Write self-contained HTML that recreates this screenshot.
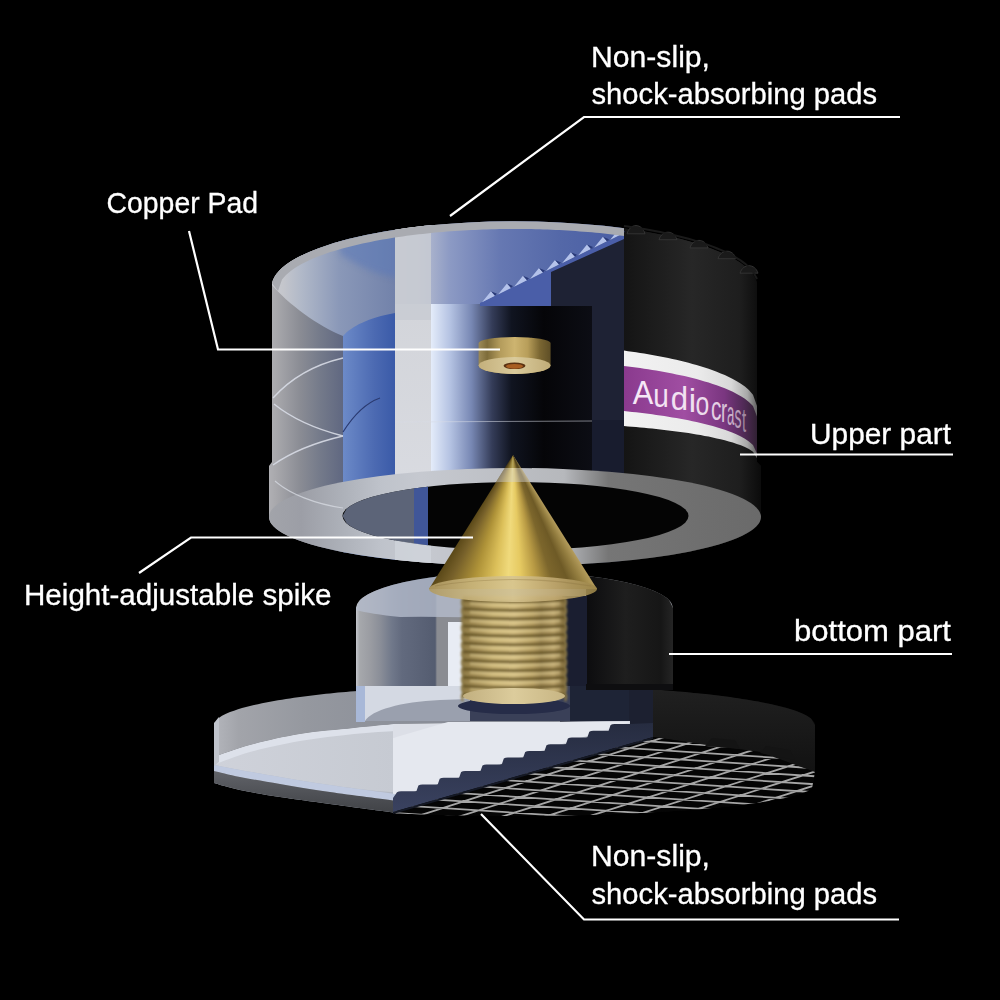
<!DOCTYPE html>
<html><head><meta charset="utf-8"><style>
html,body{margin:0;padding:0;background:#000;}
svg{display:block}
</style></head><body>
<svg width="1000" height="1000" viewBox="0 0 1000 1000">
<rect width="1000" height="1000" fill="#000"/>

<defs>
 <linearGradient id="gL" x1="265" x2="345" gradientUnits="userSpaceOnUse"><stop offset="0" stop-color="#b4b4b8"/><stop offset="0.14" stop-color="#a8a8ac"/><stop offset="0.44" stop-color="#8a8c94"/><stop offset="0.69" stop-color="#747a8a"/><stop offset="1" stop-color="#5e6680"/></linearGradient>
 <linearGradient id="gBlue" x1="0" x2="1"><stop offset="0" stop-color="#6c8ac8"/><stop offset="0.6" stop-color="#4c6ab2"/><stop offset="1" stop-color="#3a5aa8"/></linearGradient>
 <linearGradient id="gStrip" x1="0" x2="0" y1="0" y2="1"><stop offset="0" stop-color="#cfd1d6"/><stop offset="1" stop-color="#dcdee4"/></linearGradient>
 <linearGradient id="gInner" x1="431" x2="592" gradientUnits="userSpaceOnUse"><stop offset="0" stop-color="#e4ecfa"/><stop offset="0.12" stop-color="#b4c2e2"/><stop offset="0.25" stop-color="#7888b4"/><stop offset="0.38" stop-color="#343c58"/><stop offset="0.5" stop-color="#101420"/><stop offset="0.7" stop-color="#050508"/><stop offset="1" stop-color="#0c0d14"/></linearGradient>
 <linearGradient id="gTopCut" x1="395" x2="624" gradientUnits="userSpaceOnUse"><stop offset="0" stop-color="#c4c6cc"/><stop offset="0.11" stop-color="#b8bed0"/><stop offset="0.24" stop-color="#8c9ac4"/><stop offset="0.46" stop-color="#6678b2"/><stop offset="0.72" stop-color="#5468a8"/><stop offset="1" stop-color="#4a5ea4"/></linearGradient>
 <linearGradient id="gTopL" x1="271" x2="395" gradientUnits="userSpaceOnUse"><stop offset="0" stop-color="#cacbd0"/><stop offset="0.1" stop-color="#c4c6cc"/><stop offset="0.25" stop-color="#b0b8c8"/><stop offset="0.55" stop-color="#8a98b8"/><stop offset="1" stop-color="#7282aa"/></linearGradient>
 <linearGradient id="gBody" x1="624" x2="760" gradientUnits="userSpaceOnUse"><stop offset="0" stop-color="#141414"/><stop offset="0.5" stop-color="#272727"/><stop offset="0.85" stop-color="#1e1e1e"/><stop offset="1" stop-color="#0c0c0c"/></linearGradient>
 <linearGradient id="gBand" x1="624" x2="758" gradientUnits="userSpaceOnUse"><stop offset="0" stop-color="#f2f2f2"/><stop offset="0.55" stop-color="#ebebeb"/><stop offset="0.8" stop-color="#d8d8d8"/><stop offset="0.92" stop-color="#a8a8a8"/><stop offset="1" stop-color="#5a5a5a"/></linearGradient>
 <linearGradient id="gPurp" x1="624" x2="758" gradientUnits="userSpaceOnUse"><stop offset="0" stop-color="#8a3a8e"/><stop offset="0.45" stop-color="#a04ea2"/><stop offset="0.75" stop-color="#7a3680"/><stop offset="0.9" stop-color="#4e2a54"/><stop offset="1" stop-color="#2e2030"/></linearGradient>
 <linearGradient id="gCone" x1="429" x2="597" gradientUnits="userSpaceOnUse"><stop offset="0" stop-color="#7a6428"/><stop offset="0.2" stop-color="#a08838"/><stop offset="0.38" stop-color="#e0c870"/><stop offset="0.5" stop-color="#f0dc8c"/><stop offset="0.62" stop-color="#c8ae5c"/><stop offset="0.78" stop-color="#8a7434"/><stop offset="1" stop-color="#b49c58"/></linearGradient>
 <linearGradient id="gThread" x1="462" x2="566" gradientUnits="userSpaceOnUse"><stop offset="0" stop-color="#8a7846"/><stop offset="0.25" stop-color="#c8b47e"/><stop offset="0.5" stop-color="#dcc890"/><stop offset="0.75" stop-color="#a8925a"/><stop offset="1" stop-color="#7a6838"/></linearGradient>
 <linearGradient id="gBP" x1="356" x2="446" gradientUnits="userSpaceOnUse"><stop offset="0" stop-color="#c4c6cc"/><stop offset="0.04" stop-color="#a6a8ac"/><stop offset="0.16" stop-color="#9a9ca2"/><stop offset="0.27" stop-color="#8a8e98"/><stop offset="0.4" stop-color="#70788a"/><stop offset="0.51" stop-color="#626a7e"/><stop offset="0.88" stop-color="#545c70"/><stop offset="0.9" stop-color="#8a8c92"/><stop offset="1" stop-color="#8a8c92"/></linearGradient>
 <linearGradient id="gBPR" x1="586" x2="674" gradientUnits="userSpaceOnUse"><stop offset="0" stop-color="#0c0c0e"/><stop offset="0.45" stop-color="#1e1e1e"/><stop offset="0.85" stop-color="#161616"/><stop offset="1" stop-color="#262626"/></linearGradient>
 <linearGradient id="gDiskWall" x1="214" x2="420" gradientUnits="userSpaceOnUse"><stop offset="0" stop-color="#b4b6bc"/><stop offset="0.12" stop-color="#a2a4aa"/><stop offset="0.45" stop-color="#95989f"/><stop offset="1" stop-color="#8a8e98"/></linearGradient><linearGradient id="gFront" x1="0" x2="0" y1="772" y2="813" gradientUnits="userSpaceOnUse"><stop offset="0" stop-color="#606268"/><stop offset="1" stop-color="#404246"/></linearGradient>
 <linearGradient id="gFloor" x1="214" x2="395" gradientUnits="userSpaceOnUse"><stop offset="0" stop-color="#cfd2da"/><stop offset="1" stop-color="#c6cad2"/></linearGradient>
 <linearGradient id="gRing" x1="269" x2="761" gradientUnits="userSpaceOnUse"><stop offset="0" stop-color="#a2a4aa"/><stop offset="0.065" stop-color="#9c9ea6"/><stop offset="0.15" stop-color="#adb1b9"/><stop offset="0.23" stop-color="#bfc3cb"/><stop offset="0.31" stop-color="#c6c9d0"/><stop offset="0.6" stop-color="#b6b8bc"/><stop offset="0.69" stop-color="#767676"/><stop offset="1" stop-color="#6a6a6a"/></linearGradient>
 <linearGradient id="gDiskR" x1="0" x2="0" y1="690" y2="770" gradientUnits="userSpaceOnUse"><stop offset="0" stop-color="#202020"/><stop offset="1" stop-color="#121212"/></linearGradient>
</defs>
<clipPath id="cRight"><rect x="394" y="600" width="500" height="300"/></clipPath>
<path d="M214.0,725 A300.5,40 0 0 1 815.0,725 L815.0,774 L812.0,788.5 L808.0,790.9 L804.0,792.6 L800.0,794.0 L795.9,795.2 L791.9,796.3 L787.9,797.3 L783.9,798.2 L779.9,799.0 L775.9,799.8 L771.9,800.5 L767.9,801.2 L763.8,801.9 L759.8,802.5 L755.8,803.1 L751.8,803.6 L747.8,804.2 L743.8,804.7 L739.8,805.2 L735.7,805.7 L731.7,806.1 L727.7,806.5 L723.7,807.0 L719.7,807.4 L715.7,807.8 L711.7,808.1 L707.7,808.5 L703.6,808.9 L699.6,809.2 L695.6,809.5 L691.6,809.9 L687.6,810.2 L683.6,810.5 L679.6,810.7 L675.5,811.0 L671.5,811.3 L667.5,811.5 L663.5,811.8 L659.5,812.0 L655.5,812.3 L651.5,812.5 L647.4,812.7 L643.4,812.9 L639.4,813.1 L635.4,813.3 L631.4,813.5 L627.4,813.7 L623.4,813.8 L619.4,814.0 L615.3,814.1 L611.3,814.3 L607.3,814.4 L603.3,814.6 L599.3,814.7 L595.3,814.8 L591.3,814.9 L587.2,815.0 L583.2,815.2 L579.2,815.2 L575.2,815.3 L571.2,815.4 L567.2,815.5 L563.2,815.6 L559.2,815.6 L555.1,815.7 L551.1,815.8 L547.1,815.8 L543.1,815.9 L539.1,815.9 L535.1,815.9 L531.1,816.0 L527.0,816.0 L523.0,816.0 L519.0,816.0 L515.0,816.0 L511.0,816.0 L507.0,816.0 L503.0,816.0 L499.0,816.0 L494.9,815.9 L490.9,815.9 L486.9,815.9 L482.9,815.8 L478.9,815.8 L474.9,815.7 L470.9,815.7 L466.8,815.6 L462.8,815.5 L458.8,815.4 L454.8,815.4 L450.8,815.3 L446.8,815.2 L442.8,815.1 L438.8,815.0 L434.7,814.9 L430.7,814.7 L426.7,814.6 L422.7,814.5 L418.7,814.3 L414.7,814.2 L410.7,814.0 L406.6,813.9 L402.6,813.7 L398.6,813.5 L394.6,813.3 L390.6,813.2 L386.6,813.0 L382.6,812.8 L378.6,812.5 L374.5,812.3 L370.5,812.1 L366.5,811.9 L362.5,811.6 L358.5,811.3 L354.5,811.1 L350.5,810.8 L346.4,810.5 L342.4,810.2 L338.4,809.9 L334.4,809.6 L330.4,809.3 L326.4,809.0 L322.4,808.6 L318.3,808.2 L314.3,807.9 L310.3,807.5 L306.3,807.1 L302.3,806.7 L298.3,806.2 L294.3,805.8 L290.3,805.3 L286.2,804.8 L282.2,804.3 L278.2,803.8 L274.2,803.2 L270.2,802.6 L266.2,802.0 L262.2,801.4 L258.1,800.7 L254.1,800.0 L250.1,799.2 L246.1,798.4 L242.1,797.5 L238.1,796.6 L234.1,795.5 L230.1,794.3 L226.0,793.0 L222.0,791.3 L218.0,789.2 L214.0,784.0 Z" fill="#0a0a0a" clip-path="url(#cRight)"/>
<path d="M560,685.5 L560.0,685.5 L564.0,685.5 L568.1,685.6 L572.1,685.7 L576.2,685.9 L580.2,686.0 L584.3,686.1 L588.3,686.2 L592.4,686.4 L596.4,686.5 L600.5,686.7 L604.5,686.8 L608.6,687.0 L612.6,687.2 L616.7,687.4 L620.7,687.6 L624.8,687.8 L628.8,688.0 L632.9,688.2 L636.9,688.5 L641.0,688.7 L645.0,689.0 L649.0,689.2 L653.1,689.5 L657.1,689.8 L661.2,690.1 L665.2,690.4 L669.3,690.7 L673.3,691.0 L677.4,691.4 L681.4,691.7 L685.5,692.1 L689.5,692.5 L693.6,692.9 L697.6,693.3 L701.7,693.7 L705.7,694.1 L709.8,694.6 L713.8,695.1 L717.9,695.6 L721.9,696.1 L726.0,696.6 L730.0,697.1 L734.0,697.7 L738.1,698.3 L742.1,698.9 L746.2,699.5 L750.2,700.2 L754.3,700.9 L758.3,701.6 L762.4,702.4 L766.4,703.2 L770.5,704.0 L774.5,705.0 L778.6,705.9 L782.6,706.9 L786.7,708.0 L790.7,709.2 L794.8,710.6 L798.8,712.0 L802.9,713.7 L806.9,715.8 L811.0,718.5 L815.0,725.0 L815.0,772 L760,752 L700,744 L655,737 L600,740 L560,740 Z" fill="url(#gDiskR)"/>
<path d="M214.0,725 L214.0,725.0 L218.0,718.5 L222.0,715.8 L226.0,713.8 L230.0,712.1 L234.0,710.7 L238.0,709.3 L242.0,708.1 L246.0,707.0 L250.0,706.0 L254.0,705.1 L258.0,704.2 L262.0,703.3 L266.0,702.5 L270.0,701.7 L274.0,701.0 L278.0,700.3 L282.0,699.7 L286.0,699.0 L290.0,698.4 L294.0,697.8 L298.0,697.3 L302.0,696.7 L306.0,696.2 L310.0,695.7 L314.0,695.2 L318.0,694.7 L322.0,694.3 L326.0,693.8 L330.0,693.4 L334.0,693.0 L338.0,692.6 L342.0,692.2 L346.0,691.9 L350.0,691.5 L354.0,691.2 L358.0,690.9 L362.0,690.5 L366.0,690.2 L370.0,689.9 L374.0,689.6 L378.0,689.4 L382.0,689.1 L386.0,688.8 L390.0,688.6 L394.0,688.4 L398.0,688.1 L402.0,687.9 L406.0,687.7 L410.0,687.5 L414.0,687.3 L418.0,687.1 L422.0,686.9 L426.0,686.8 L430.0,686.6 L434.0,686.5 L438.0,686.3 L442.0,686.2 L446.0,686.1 L450.0,685.9 L454.0,685.8 L458.0,685.7 L462.0,685.6 L466.0,685.5 L470.0,685.4 L474.0,685.4 L478.0,685.3 L482.0,685.2 L486.0,685.2 L490.0,685.1 L494.0,685.1 L498.0,685.1 L502.0,685.0 L506.0,685.0 L510.0,685.0 L514.0,685.0 L518.0,685.0 L522.0,685.0 L526.0,685.0 L530.0,685.1 L534.0,685.1 L538.0,685.1 L542.0,685.2 L546.0,685.2 L550.0,685.3 L554.0,685.3 L558.0,685.4 L562.0,685.5 L566.0,685.6 L570.0,685.7 L574.0,685.8 L578.0,685.9 L582.0,686.0 L586.0,686.1 L590.0,686.3 L594.0,686.4 L598.0,686.6 L602.0,686.7 L606.0,686.9 L610.0,687.1 L614.0,687.3 L618.0,687.4 L622.0,687.6 L626.0,687.9 L630.0,688.1 L630,721 L395,724 C388.2,724.7 369.8,726.3 354.0,728.0 C338.2,729.7 317.3,731.2 300.0,734.0 C282.7,736.8 264.3,741.2 250.0,745.0 C235.7,748.8 220.0,755.0 214.0,757.0 Z" fill="url(#gDiskWall)"/>
<path d="M560,686 L653,686 L653,737 L560,760 Z" fill="#1c2030"/>
<clipPath id="cMesh"><path d="M393,812 L653,737 L700,744 L760,752 L815,772 L812.0,788.5 L808.0,790.9 L804.0,792.6 L800.0,794.0 L796.0,795.2 L792.0,796.3 L788.0,797.3 L784.0,798.2 L780.0,799.0 L776.0,799.8 L772.0,800.5 L768.0,801.2 L764.0,801.8 L760.0,802.5 L756.0,803.0 L752.0,803.6 L748.0,804.1 L744.0,804.7 L740.0,805.2 L736.0,805.6 L732.0,806.1 L728.0,806.5 L724.0,806.9 L720.0,807.3 L716.0,807.7 L712.0,808.1 L708.0,808.5 L704.0,808.8 L700.0,809.2 L696.0,809.5 L692.0,809.8 L688.0,810.1 L684.0,810.4 L680.0,810.7 L676.0,811.0 L672.0,811.3 L668.0,811.5 L664.0,811.8 L660.0,812.0 L656.0,812.2 L652.0,812.5 L648.0,812.7 L644.0,812.9 L640.0,813.1 L636.0,813.3 L632.0,813.5 L628.0,813.6 L624.0,813.8 L620.0,814.0 L616.0,814.1 L612.0,814.3 L608.0,814.4 L604.0,814.5 L600.0,814.7 L596.0,814.8 L592.0,814.9 L588.0,815.0 L584.0,815.1 L580.0,815.2 L576.0,815.3 L572.0,815.4 L568.0,815.5 L564.0,815.6 L560.0,815.6 L556.0,815.7 L552.0,815.7 L548.0,815.8 L544.0,815.8 L540.0,815.9 L536.0,815.9 L532.0,815.9 L528.0,816.0 L524.0,816.0 L520.0,816.0 L516.0,816.0 L512.0,816.0 L508.0,816.0 L504.0,816.0 L500.0,816.0 L496.0,815.9 L492.0,815.9 L488.0,815.9 L484.0,815.8 L480.0,815.8 L476.0,815.7 L472.0,815.7 L468.0,815.6 L464.0,815.5 L460.0,815.5 L456.0,815.4 L452.0,815.3 L448.0,815.2 L444.0,815.1 L440.0,815.0 L436.0,814.9 L432.0,814.8 L428.0,814.6 L424.0,814.5 L420.0,814.4 L416.0,814.2 L412.0,814.1 L408.0,813.9 L404.0,813.8 L400.0,813.6 L396.0,813.4 Z"/></clipPath>
<g clip-path="url(#cMesh)"><rect x="380" y="700" width="450" height="140" fill="#050505"/><path d="M380,620.0 L830,649.2 M380,628.0 L830,657.2 M380,636.0 L830,665.2 M380,644.0 L830,673.2 M380,652.0 L830,681.2 M380,660.0 L830,689.2 M380,668.0 L830,697.2 M380,676.0 L830,705.2 M380,684.0 L830,713.2 M380,692.0 L830,721.2 M380,700.0 L830,729.2 M380,708.0 L830,737.2 M380,716.0 L830,745.2 M380,724.0 L830,753.2 M380,732.0 L830,761.2 M380,740.0 L830,769.2 M380,748.0 L830,777.2 M380,756.0 L830,785.2 M380,764.0 L830,793.2 M380,772.0 L830,801.2 M380,780.0 L830,809.2 M380,788.0 L830,817.2 M380,796.0 L830,825.2 M380,804.0 L830,833.2 M380,812.0 L830,841.2 M380,820.0 L830,849.2 M380,828.0 L830,857.2 M380,836.0 L830,865.2 M380,844.0 L830,873.2 M380,852.0 L830,881.2 M380,860.0 L830,889.2 M380,868.0 L830,897.2 M380,876.0 L830,905.2 M380,884.0 L830,913.2 M380,892.0 L830,921.2 M-216.0,840 L221.5,700 M-173.0,840 L264.5,700 M-130.0,840 L307.5,700 M-87.0,840 L350.5,700 M-44.0,840 L393.5,700 M-1.0,840 L436.5,700 M42.0,840 L479.5,700 M85.0,840 L522.5,700 M128.0,840 L565.5,700 M171.0,840 L608.5,700 M214.0,840 L651.5,700 M257.0,840 L694.5,700 M300.0,840 L737.5,700 M343.0,840 L780.5,700 M386.0,840 L823.5,700 M429.0,840 L866.5,700 M472.0,840 L909.5,700 M515.0,840 L952.5,700 M558.0,840 L995.5,700 M601.0,840 L1038.5,700 M644.0,840 L1081.5,700 M687.0,840 L1124.5,700 M730.0,840 L1167.5,700 M773.0,840 L1210.5,700 M816.0,840 L1253.5,700 M859.0,840 L1296.5,700 M902.0,840 L1339.5,700 M945.0,840 L1382.5,700 M988.0,840 L1425.5,700 M1031.0,840 L1468.5,700 M1074.0,840 L1511.5,700 M1117.0,840 L1554.5,700 M1160.0,840 L1597.5,700 M1203.0,840 L1640.5,700 M1246.0,840 L1683.5,700 M1289.0,840 L1726.5,700 M1332.0,840 L1769.5,700" stroke="#a6a6a6" stroke-width="1.8" fill="none"/></g>
<path d="M705,746 L712,738 L735,740 L740,749 Z M760,753 L766,746 L790,750 L795,760 Z" fill="#141414"/>
<path d="M214,758 C220.0,756.0 235.7,749.8 250.0,746.0 C264.3,742.2 282.7,737.8 300.0,735.0 C317.3,732.2 338.2,730.7 354.0,729.0 C369.8,727.3 388.2,725.7 395.0,725.0 L397,725 L397,813 C385.8,811.5 349.5,806.7 330.0,804.0 C310.5,801.3 295.0,799.3 280.0,797.0 C265.0,794.7 251.0,792.3 240.0,790.0 C229.0,787.7 218.3,784.2 214.0,783.0 Z" fill="#b4bac6"/>
<path d="M214,757 C220.0,755.0 235.7,748.8 250.0,745.0 C264.3,741.2 282.7,736.8 300.0,734.0 C317.3,731.2 338.2,729.7 354.0,728.0 C369.8,726.3 388.2,724.7 395.0,724.0 L630,721 L630,724 L395,798 L395,792 C384.2,792.5 349.2,787.8 330.0,785.0 C310.8,782.2 295.0,779.5 280.0,777.0 C265.0,774.5 251.0,772.0 240.0,770.0 C229.0,768.0 218.3,765.8 214.0,765.0 Z" fill="url(#gFloor)"/>
<path d="M214,757 C220.0,755.0 235.7,748.8 250.0,745.0 C264.3,741.2 282.7,736.8 300.0,734.0 C317.3,731.2 338.2,729.7 354.0,728.0 C369.8,726.3 388.2,724.7 395.0,724.0 L395,731 C388.2,731.5 369.8,732.3 354.0,734.0 C338.2,735.7 317.3,738.0 300.0,741.0 C282.7,744.0 264.0,748.2 250.0,752.0 C236.0,755.8 221.7,762.0 216.0,764.0 Z" fill="#dde1ea"/>
<path d="M393,724 L630,721 L628,733 L448,733 L393,738 Z" fill="#dcdfe7"/>
<path d="M393,738 L448,722 L630,722 L395,798 L393,798 Z" fill="#e5e8ef"/>
<path d="M214,765 C218.3,765.8 229.0,768.0 240.0,770.0 C251.0,772.0 265.0,774.5 280.0,777.0 C295.0,779.5 310.8,782.2 330.0,785.0 C349.2,787.8 384.2,792.5 395.0,794.0 L397,801 C385.8,799.5 349.5,794.8 330.0,792.0 C310.5,789.2 295.0,786.5 280.0,784.0 C265.0,781.5 251.0,779.2 240.0,777.0 C229.0,774.8 218.3,772.0 214.0,771.0 Z" fill="#c0cae0"/>
<path d="M214,771 C218.3,772.0 229.0,774.8 240.0,777.0 C251.0,779.2 265.0,781.5 280.0,784.0 C295.0,786.5 310.5,789.2 330.0,792.0 C349.5,794.8 385.8,799.5 397.0,801.0 L397,813 C385.8,811.5 349.5,806.7 330.0,804.0 C310.5,801.3 295.0,799.3 280.0,797.0 C265.0,794.7 251.0,792.3 240.0,790.0 C229.0,787.7 218.3,784.2 214.0,783.0 Z" fill="url(#gFront)"/>
<path d="M214.0,723 L219.0,717 L219.0,762 L214.0,766 Z" fill="#c0c4cc"/>
<linearGradient id="gSer" x1="0" x2="0" y1="0" y2="1"><stop offset="0" stop-color="#262c40"/><stop offset="1" stop-color="#3a4260"/></linearGradient>
<path d="M630,724 L653,723 L653,737 L393,812 L393,798 L397.0,792.3 Q398.5,791.3 401.0,791.3 L416.4,791.3 L418.4,785.6 Q419.9,784.5 422.4,784.5 L437.7,784.5 L439.7,778.8 Q441.2,777.8 443.7,777.8 L459.1,777.8 L461.1,772.1 Q462.6,771.1 465.1,771.1 L480.5,771.1 L482.5,765.4 Q484.0,764.4 486.5,764.4 L501.8,764.4 L503.8,758.6 Q505.3,757.6 507.8,757.6 L523.2,757.6 L525.2,751.9 Q526.7,750.9 529.2,750.9 L544.5,750.9 L546.5,745.2 Q548.0,744.2 550.5,744.2 L565.9,744.2 L567.9,738.5 Q569.4,737.5 571.9,737.5 L587.3,737.5 L589.3,731.7 Q590.8,730.7 593.3,730.7 L608.6,730.7 L610.6,725.0 Q612.1,724.0 614.6,724.0 L630.0,724.0 Z" fill="url(#gSer)"/>
<path d="M393,812 L653,737 L653,739 L393,814 Z" fill="#141824"/>
<path d="M356.0,608 A158.5,36 0 0 1 673.0,608 L673.0,686 L356.0,686 Z" fill="url(#gBP)"/>
<rect x="556" y="600" width="32" height="90" fill="#1a1e30"/>
<path d="M586,575.9 L586.0,575.9 L590.1,576.4 L594.3,576.9 L598.4,577.5 L602.6,578.1 L606.7,578.7 L610.9,579.4 L615.0,580.2 L619.1,581.0 L623.3,581.8 L627.4,582.7 L631.6,583.7 L635.7,584.8 L639.9,586.0 L644.0,587.2 L648.1,588.6 L652.3,590.2 L656.4,592.0 L660.6,594.0 L664.7,596.5 L668.9,599.8 L673.0,608.0 L673.0,686 L586,686 Z" fill="url(#gBPR)"/>
<path d="M356.0,608 L356.0,608.0 L360.0,599.9 L364.1,596.7 L368.1,594.2 L372.1,592.2 L376.2,590.4 L380.2,588.9 L384.2,587.5 L388.3,586.2 L392.3,585.1 L396.4,584.0 L400.4,583.0 L404.4,582.1 L408.5,581.2 L412.5,580.4 L416.5,579.7 L420.6,579.0 L424.6,578.4 L428.6,577.7 L432.7,577.2 L436.7,576.6 L440.7,576.1 L444.8,575.7 L448.8,575.2 L452.8,574.8 L456.9,574.5 L460.9,574.1 L464.9,573.8 L469.0,573.5 L473.0,573.3 L477.1,573.0 L481.1,572.8 L485.1,572.6 L489.2,572.5 L493.2,572.3 L497.2,572.2 L501.3,572.1 L505.3,572.1 L509.3,572.0 L513.4,572.0 L517.4,572.0 L521.4,572.0 L525.5,572.1 L529.5,572.2 L533.5,572.3 L537.6,572.4 L541.6,572.5 L545.6,572.7 L549.7,572.9 L553.7,573.1 L557.8,573.4 L561.8,573.6 L565.8,573.9 L569.9,574.3 L573.9,574.6 L577.9,575.0 L582.0,575.4 L586.0,575.9 L586,622 Q470,616 400,617 Q370,614 356.0,610 Z" fill="#b4bccc" opacity="0.8"/>
<rect x="448" y="622" width="16" height="64" fill="#e8ecf4"/>
<rect x="562" y="596" width="25" height="92" fill="#1a1e30"/>
<path d="M356.0,686 L570,686 L570,721 L356.0,721 Z" fill="#9aa0ae"/>
<path d="M365.0,686 L470,686 L470,699 L440,700 C400,702 372,710 365.0,721 Z" fill="#d4d9e3"/>
<rect x="356.0" y="686" width="9" height="36" fill="#a8b8d8"/>
<path d="M470,686 L570,686 L570,721 L470,721 Z" fill="#3a4058"/>
<path d="M570,686 L629,686 L629,721 L570,721 Z" fill="#1e2436"/>
<rect x="586" y="684" width="87.0" height="6" fill="#0e0e10"/>
<filter id="blur1" x="-10%" y="-10%" width="120%" height="120%"><feGaussianBlur stdDeviation="1.1"/></filter>
<linearGradient id="gThr" x1="462" x2="566" gradientUnits="userSpaceOnUse"><stop offset="0" stop-color="#8a7642"/><stop offset="0.12" stop-color="#a48e56"/><stop offset="0.3" stop-color="#c8b274"/><stop offset="0.5" stop-color="#d2bc80"/><stop offset="0.68" stop-color="#b49c60"/><stop offset="0.76" stop-color="#9a8450"/><stop offset="0.88" stop-color="#b8a068"/><stop offset="1" stop-color="#7a6636"/></linearGradient>
<g filter="url(#blur1)"><rect x="463" y="596" width="102" height="102" fill="url(#gThr)"/><path d="M462,600.0 Q514,603.5 566,600.0 M462,608.6 Q514,612.1 566,608.6 M462,617.2 Q514,620.7 566,617.2 M462,625.8 Q514,629.3 566,625.8 M462,634.4 Q514,637.9 566,634.4 M462,643.0 Q514,646.5 566,643.0 M462,651.6 Q514,655.1 566,651.6 M462,660.2 Q514,663.7 566,660.2 M462,668.8 Q514,672.3 566,668.8 M462,677.4 Q514,680.9 566,677.4 M462,686.0 Q514,689.5 566,686.0 M462,694.6 Q514,698.1 566,694.6 " stroke="#5a4a1e" stroke-width="3.2" fill="none" opacity="0.7"/><path d="M470,603.5 Q514,606.5 560,603.5 M470,612.1 Q514,615.1 560,612.1 M470,620.7 Q514,623.7 560,620.7 M470,629.3 Q514,632.3 560,629.3 M470,637.9 Q514,640.9 560,637.9 M470,646.5 Q514,649.5 560,646.5 M470,655.1 Q514,658.1 560,655.1 M470,663.7 Q514,666.7 560,663.7 M470,672.3 Q514,675.3 560,672.3 M470,680.9 Q514,683.9 560,680.9 M470,689.5 Q514,692.5 560,689.5 M470,698.1 Q514,701.1 560,698.1 " stroke="#ecdca4" stroke-width="2.2" fill="none" opacity="0.45"/><path d="M463,598.0 q-2.5,4.3 0,8.6 M565,598.0 q2.5,4.3 0,8.6 M463,606.6 q-2.5,4.3 0,8.6 M565,606.6 q2.5,4.3 0,8.6 M463,615.2 q-2.5,4.3 0,8.6 M565,615.2 q2.5,4.3 0,8.6 M463,623.8 q-2.5,4.3 0,8.6 M565,623.8 q2.5,4.3 0,8.6 M463,632.4 q-2.5,4.3 0,8.6 M565,632.4 q2.5,4.3 0,8.6 M463,641.0 q-2.5,4.3 0,8.6 M565,641.0 q2.5,4.3 0,8.6 M463,649.6 q-2.5,4.3 0,8.6 M565,649.6 q2.5,4.3 0,8.6 M463,658.2 q-2.5,4.3 0,8.6 M565,658.2 q2.5,4.3 0,8.6 M463,666.8 q-2.5,4.3 0,8.6 M565,666.8 q2.5,4.3 0,8.6 M463,675.4 q-2.5,4.3 0,8.6 M565,675.4 q2.5,4.3 0,8.6 M463,684.0 q-2.5,4.3 0,8.6 M565,684.0 q2.5,4.3 0,8.6 M463,692.6 q-2.5,4.3 0,8.6 M565,692.6 q2.5,4.3 0,8.6 " stroke="#8c7a48" stroke-width="2" fill="none"/></g>
<ellipse cx="514" cy="706" rx="56" ry="8" fill="#262c48"/>
<linearGradient id="gTB" x1="464" x2="564" gradientUnits="userSpaceOnUse"><stop offset="0" stop-color="#c2b080"/><stop offset="0.5" stop-color="#dccc9c"/><stop offset="1" stop-color="#c8b684"/></linearGradient>
<ellipse cx="514" cy="696" rx="51" ry="8" fill="url(#gTB)"/>
<path d="M272,283 A243,66 0 0 1 757,283 L757,462 L761,466 L761,517 A246,49 0 0 1 269,517 L269,466 L272,462 Z" fill="url(#gBody)"/>
<clipPath id="cU"><path d="M272,283 A243,66 0 0 1 757,283 L757,462 L761,466 L761,517 A246,49 0 0 1 269,517 L269,466 L272,462 Z"/></clipPath>
<g clip-path="url(#cU)">
<rect x="624" y="200" width="140" height="380" fill="url(#gBody)"/>
<rect x="265" y="200" width="80" height="380" fill="url(#gL)"/>
<path d="M343,560 L343,300 L395,300 L395,560 Z" fill="url(#gBlue)"/>
<rect x="395" y="200" width="37" height="380" fill="url(#gStrip)"/>
<rect x="431" y="300" width="162" height="280" fill="url(#gInner)"/>
<rect x="592" y="200" width="32" height="380" fill="#181c2e"/>
<path d="M265,200 L395,200 L395,313 C368,318 352,326 343,336 C318,326 288,304 271,284 Z" fill="url(#gTopL)"/>
<filter id="blur3" x="-20%" y="-20%" width="140%" height="140%"><feGaussianBlur stdDeviation="3"/></filter>
<path d="M340,236 Q370,226 398,226 L398,278 Q370,274 340,254 Z" fill="#5a78b8" opacity="0.55" filter="url(#blur3)"/>
<path d="M395,220 L624,220 L624,233 L480,304 L395,304 Z" fill="url(#gTopCut)"/>
<rect x="395" y="220" width="36" height="100" fill="#c8cbd2" opacity="0.85"/>
<path d="M624,233 L480,303 L480,306 L551,306 L551,273 L624,241 Z" fill="#4a5ea8"/>
<path d="M551,272 L624,239 L624,420 L592,420 L592,306 L551,306 Z" fill="#1e2234"/>
<path d="M623.0,233.5 L610.0,240.0 L619.0,229.0 Z M607.0,241.3 L594.0,247.8 L603.0,236.8 Z M591.0,249.1 L578.0,255.6 L587.0,244.6 Z M575.0,256.8 L562.0,263.3 L571.0,252.3 Z M559.0,264.6 L546.0,271.1 L555.0,260.1 Z M543.0,272.4 L530.0,278.9 L539.0,267.9 Z M527.0,280.2 L514.0,286.7 L523.0,275.7 Z M511.0,287.9 L498.0,294.4 L507.0,283.4 Z M495.0,295.7 L482.0,302.2 L491.0,291.2 Z " fill="#b4c2ea"/>
<path d="M623.0,233.5 L619.0,229.0 L625.0,231.5 Z M607.0,241.3 L603.0,236.8 L609.0,239.3 Z M591.0,249.1 L587.0,244.6 L593.0,247.1 Z M575.0,256.8 L571.0,252.3 L577.0,254.8 Z M559.0,264.6 L555.0,260.1 L561.0,262.6 Z M543.0,272.4 L539.0,267.9 L545.0,270.4 Z M527.0,280.2 L523.0,275.7 L529.0,278.2 Z M511.0,287.9 L507.0,283.4 L513.0,285.9 Z M495.0,295.7 L491.0,291.2 L497.0,293.7 Z " fill="#2a3a78"/>
<path d="M272,283 L272.0,283.0 L276.0,271.1 L280.0,266.2 L284.0,262.5 L288.0,259.4 L292.0,256.8 L296.0,254.4 L300.0,252.2 L304.0,250.3 L308.0,248.4 L312.0,246.7 L316.0,245.1 L320.0,243.6 L324.0,242.2 L328.0,240.9 L332.0,239.6 L336.0,238.4 L340.0,237.2 L344.0,236.1 L348.0,235.1 L352.0,234.1 L356.0,233.1 L360.0,232.2 L364.0,231.3 L368.0,230.4 L372.0,229.6 L376.0,228.9 L380.0,228.1 L384.0,227.4 L388.0,226.7 L392.0,226.1 L396.0,225.5 L400.0,224.9 L404.0,224.3 L408.0,223.7 L412.0,223.2 L416.0,222.7 L420.0,222.3 L424.0,221.8 L428.0,221.4 L432.0,221.0 L436.0,220.6 L440.0,220.2 L444.0,219.9 L448.0,219.6 L452.0,219.3 L456.0,219.0 L460.0,218.7 L464.0,218.5 L468.0,218.2 L472.0,218.0 L476.0,217.9 L480.0,217.7 L484.0,217.5 L488.0,217.4 L492.0,217.3 L496.0,217.2 L500.0,217.1 L504.0,217.1 L508.0,217.0 L512.0,217.0 L516.0,217.0 L520.0,217.0 L524.0,217.0 L528.0,217.1 L532.0,217.2 L536.0,217.2 L540.0,217.4 L544.0,217.5 L548.0,217.6 L552.0,217.8 L556.0,217.9 L560.0,218.1 L564.0,218.4 L568.0,218.6 L572.0,218.8 L576.0,219.1 L580.0,219.4 L584.0,219.7 L588.0,220.0 L592.0,220.4 L596.0,220.8 L600.0,221.2 L604.0,221.6 L608.0,222.0 L612.0,222.5 L616.0,223.0 L620.0,223.5 L624.0,224.0 L624,233.0 L624.0,235.9 L620.0,235.4 L616.0,234.9 L611.9,234.4 L607.9,234.0 L603.9,233.5 L599.9,233.1 L595.8,232.7 L591.8,232.3 L587.8,232.0 L583.8,231.7 L579.7,231.4 L575.7,231.1 L571.7,230.8 L567.7,230.6 L563.7,230.3 L559.6,230.1 L555.6,229.9 L551.6,229.7 L547.6,229.6 L543.5,229.5 L539.5,229.3 L535.5,229.2 L531.5,229.1 L527.4,229.1 L523.4,229.0 L519.4,229.0 L515.4,229.0 L511.3,229.0 L507.3,229.0 L503.3,229.1 L499.3,229.1 L495.3,229.2 L491.2,229.3 L487.2,229.4 L483.2,229.6 L479.2,229.7 L475.1,229.9 L471.1,230.1 L467.1,230.3 L463.1,230.5 L459.0,230.8 L455.0,231.0 L451.0,231.3 L447.0,231.6 L443.0,231.9 L438.9,232.3 L434.9,232.6 L430.9,233.0 L426.9,233.4 L422.8,233.9 L418.8,234.3 L414.8,234.8 L410.8,235.3 L406.7,235.8 L402.7,236.4 L398.7,237.0 L394.7,237.6 L390.7,238.2 L386.6,238.9 L382.6,239.6 L378.6,240.3 L374.6,241.1 L370.5,241.9 L366.5,242.7 L362.5,243.5 L358.5,244.4 L354.4,245.4 L350.4,246.4 L346.4,247.4 L342.4,248.5 L338.3,249.7 L334.3,250.9 L330.3,252.1 L326.3,253.5 L322.3,254.9 L318.2,256.4 L314.2,258.1 L310.2,259.8 L306.2,261.7 L302.1,263.7 L298.1,266.0 L294.1,268.5 L290.1,271.5 L286.0,275.0 L282.0,279.6 L278.0,291.0 L278,291 Z" fill="#a9abb1"/>
<g stroke="#d8dce6" stroke-width="1.4" fill="none" opacity="0.9">
<path d="M273,398 Q300,368 343,358"/>
<path d="M274,404 Q300,425 343,436"/>
<path d="M343,436 Q300,446 273,465"/>
<path d="M395,422 L592,421" stroke-width="1.2" opacity="0.6"/>
</g>
<path d="M343,432 Q360,405 380,398" stroke="#2a3a70" stroke-width="1.2" fill="none"/>
</g>
<clipPath id="cUR"><path d="M624,200 L757,200 L757,600 L624,600 Z"/></clipPath>
<g clip-path="url(#cUR)">
<path d="M624.0,350.6 L628.0,351.2 L632.1,351.7 L636.1,352.3 L640.1,352.9 L644.2,353.6 L648.2,354.2 L652.2,354.9 L656.2,355.7 L660.3,356.4 L664.3,357.2 L668.3,358.0 L672.4,358.9 L676.4,359.8 L680.4,360.7 L684.5,361.7 L688.5,362.8 L692.5,363.9 L696.5,365.0 L700.6,366.2 L704.6,367.5 L708.6,368.8 L712.7,370.2 L716.7,371.7 L720.7,373.4 L724.8,375.1 L728.8,376.9 L732.8,379.0 L736.8,381.2 L740.9,383.7 L744.9,386.6 L748.9,390.1 L753.0,394.7 L757.0,406.0 L757.0,458.3 L753.0,451.7 L748.9,449.1 L744.9,447.0 L740.9,445.3 L736.8,443.9 L732.8,442.6 L728.8,441.4 L724.8,440.3 L720.7,439.3 L716.7,438.4 L712.7,437.5 L708.6,436.6 L704.6,435.9 L700.6,435.1 L696.5,434.4 L692.5,433.8 L688.5,433.1 L684.5,432.5 L680.4,432.0 L676.4,431.4 L672.4,430.9 L668.3,430.4 L664.3,429.9 L660.3,429.4 L656.2,429.0 L652.2,428.6 L648.2,428.2 L644.2,427.8 L640.1,427.4 L636.1,427.0 L632.1,426.7 L628.0,426.4 L624.0,426.1 Z" fill="url(#gBand)"/>
<path d="M624.0,366.0 L628.0,366.5 L632.1,367.0 L636.1,367.6 L640.1,368.1 L644.2,368.7 L648.2,369.3 L652.2,369.9 L656.2,370.6 L660.3,371.3 L664.3,372.0 L668.3,372.8 L672.4,373.6 L676.4,374.4 L680.4,375.2 L684.5,376.1 L688.5,377.1 L692.5,378.1 L696.5,379.1 L700.6,380.2 L704.6,381.4 L708.6,382.6 L712.7,383.9 L716.7,385.2 L720.7,386.7 L724.8,388.3 L728.8,390.0 L732.8,391.8 L736.8,393.9 L740.9,396.2 L744.9,398.8 L748.9,402.0 L753.0,406.1 L757.0,416.4 L757.0,453.6 L753.0,444.9 L748.9,441.4 L744.9,438.7 L740.9,436.5 L736.8,434.5 L732.8,432.8 L728.8,431.2 L724.8,429.8 L720.7,428.5 L716.7,427.2 L712.7,426.1 L708.6,425.0 L704.6,424.0 L700.6,423.0 L696.5,422.1 L692.5,421.2 L688.5,420.3 L684.5,419.5 L680.4,418.8 L676.4,418.1 L672.4,417.4 L668.3,416.7 L664.3,416.1 L660.3,415.5 L656.2,414.9 L652.2,414.3 L648.2,413.8 L644.2,413.3 L640.1,412.8 L636.1,412.3 L632.1,411.9 L628.0,411.4 L624.0,411.0 Z" fill="url(#gPurp)"/>
</g>
<text transform="translate(632.7,403.6) scale(0.932,1)" font-family="Liberation Sans" font-size="33" fill="#f6e8f6">A</text>
<text transform="translate(653.3,407) scale(0.846,1)" font-family="Liberation Sans" font-size="33" fill="#f4e4f4">u</text>
<text transform="translate(670.8,410) scale(0.943,1)" font-family="Liberation Sans" font-size="33" fill="#f2e2f2">d</text>
<text transform="translate(688.7,412) scale(1.000,1)" font-family="Liberation Sans" font-size="33" fill="#f0e0f0">i</text>
<text transform="translate(695.4,415) scale(0.748,1)" font-family="Liberation Sans" font-size="33" fill="#ecdcec">o</text>
<text transform="translate(710.9,419.5) scale(0.634,1)" font-family="Liberation Sans" font-size="33" fill="#e4d0e4">c</text>
<text transform="translate(720.9,421.5) scale(0.558,1)" font-family="Liberation Sans" font-size="33" fill="#d8c4d8">r</text>
<text transform="translate(727.1,425) scale(0.402,1)" font-family="Liberation Sans" font-size="33" fill="#c8b0c8">a</text>
<text transform="translate(734.4,428) scale(0.423,1)" font-family="Liberation Sans" font-size="33" fill="#b89cb8">s</text>
<text transform="translate(741.9,431.5) scale(0.455,1)" font-family="Liberation Sans" font-size="33" fill="#a088a0">t</text>
<path d="M627,233.8 C630,222.8 642,222.8 645,233.8 Z M659,239.7 C662,229.7 674,229.7 677,239.7 Z M690,247.9 C693,237.9 705,237.9 708,247.9 Z M718,258.7 C721,248.7 733,248.7 736,258.7 Z M740,273.2 C743,263.2 755,263.2 758,273.2 Z " fill="#1a1a1a" stroke="#3a3a3a" stroke-width="0.8"/>
<path d="M624,226.0 L624.0,226.0 L628.0,226.6 L632.1,227.2 L636.1,227.8 L640.1,228.4 L644.2,229.1 L648.2,229.8 L652.2,230.5 L656.2,231.3 L660.3,232.1 L664.3,232.9 L668.3,233.8 L672.4,234.7 L676.4,235.7 L680.4,236.7 L684.5,237.7 L688.5,238.8 L692.5,239.9 L696.5,241.1 L700.6,242.4 L704.6,243.7 L708.6,245.1 L712.7,246.6 L716.7,248.2 L720.7,249.9 L724.8,251.7 L728.8,253.6 L732.8,255.7 L736.8,258.1 L740.9,260.7 L744.9,263.6 L748.9,267.1 L753.0,271.6 L757.0,279.0" stroke="#1a1a1a" stroke-width="2" fill="none"/>
<ellipse cx="515" cy="517" rx="246" ry="49" fill="url(#gRing)"/>
<ellipse cx="515.5" cy="516" rx="173" ry="34" fill="#040404"/>
<path d="M275,481 C290,494 315,504 343,508" stroke="#d4d8e0" stroke-width="1.2" fill="none" opacity="0.8"/>
<path d="M342.5,516 L342.5,516.0 L346.6,508.7 L350.6,505.7 L354.7,503.5 L358.8,501.6 L362.9,500.0 L366.9,498.6 L371.0,497.3 L375.1,496.1 L379.1,495.1 L383.2,494.1 L387.3,493.2 L391.4,492.3 L395.4,491.5 L399.5,490.8 L403.6,490.1 L407.6,489.4 L411.7,488.8 L415.8,488.2 L419.9,487.7 L423.9,487.2 L428.0,486.7 L428,545.3 L428.0,545.3 L423.9,544.8 L419.9,544.3 L415.8,543.8 L411.7,543.2 L407.6,542.6 L403.6,541.9 L399.5,541.2 L395.4,540.5 L391.4,539.7 L387.3,538.8 L383.2,537.9 L379.1,536.9 L375.1,535.9 L371.0,534.7 L366.9,533.4 L362.9,532.0 L358.8,530.4 L354.7,528.5 L350.6,526.3 L346.6,523.3 L342.5,516.0 Z" fill="#5c6478"/>
<path d="M414,488.5 L428,486.7 L428,545.3 L414,543.5 Z" fill="#3a52a0" opacity="0.8"/>
<path d="M395,540.4 L431,545.7 L431,563.1 L395,559.8 Z" fill="#d4d8e0" opacity="0.6"/>
<linearGradient id="gCu" x1="478.6" x2="550.6" gradientUnits="userSpaceOnUse"><stop offset="0" stop-color="#9c8a58"/><stop offset="0.12" stop-color="#7e6c3a"/><stop offset="0.3" stop-color="#b49c5c"/><stop offset="0.5" stop-color="#cdb470"/><stop offset="0.68" stop-color="#b89e5a"/><stop offset="0.85" stop-color="#7a6632"/><stop offset="1" stop-color="#5e4e26"/></linearGradient>
<linearGradient id="gCuB" x1="478.6" x2="550.6" gradientUnits="userSpaceOnUse"><stop offset="0" stop-color="#c4b07c"/><stop offset="0.5" stop-color="#dacb9c"/><stop offset="1" stop-color="#c0ac78"/></linearGradient>
<path d="M478.6,343 A36,6 0 0 1 550.6,343 L550.6,365.5 A36,8.5 0 0 1 478.6,365.5 Z" fill="url(#gCu)"/>
<ellipse cx="514.6" cy="365.5" rx="36" ry="8.5" fill="url(#gCuB)"/>
<ellipse cx="514.5" cy="365.8" rx="11" ry="3.3" fill="#5a3212"/>
<ellipse cx="514.5" cy="366.3" rx="8.5" ry="2.4" fill="#a85e22"/>
<foreignObject x="425" y="450" width="176" height="145"><div style="width:176px;height:145px;background:conic-gradient(at 88px 5px, #b49c5c 147.92deg, #947e40 151.67deg, #6e5a26 156.31deg, #7c662c 162.60deg, #b89a44 169.35deg, #e6ca62 176.41deg, #f0da7c 182.15deg, #dcc05a 188.56deg, #ae9238 197.40deg, #76602a 206.63deg, #5a4818 212.08deg);clip-path:polygon(88px 5px, 4px 139px, 172px 139px)"></div></foreignObject>
<clipPath id="cCone"><path d="M513,455 L429,589 L597,589 Z"/></clipPath>
<g clip-path="url(#cCone)"><path d="M440,470.3 L440.0,470.3 L444.1,470.1 L448.1,469.8 L452.2,469.6 L456.2,469.4 L460.3,469.2 L464.3,469.1 L468.4,468.9 L472.4,468.7 L476.5,468.6 L480.5,468.5 L484.6,468.4 L488.6,468.3 L492.7,468.2 L496.8,468.1 L500.8,468.1 L504.9,468.0 L508.9,468.0 L513.0,468.0 L517.0,468.0 L521.1,468.0 L525.1,468.0 L529.2,468.1 L533.2,468.1 L537.3,468.2 L541.4,468.3 L545.4,468.4 L549.5,468.5 L553.5,468.6 L557.6,468.7 L561.6,468.9 L565.7,469.1 L569.7,469.2 L573.8,469.4 L577.8,469.6 L581.9,469.8 L585.9,470.1 L590.0,470.3 L590.0,485.3 L585.9,484.9 L581.9,484.6 L577.8,484.3 L573.8,484.0 L569.7,483.7 L565.7,483.5 L561.6,483.2 L557.6,483.0 L553.5,482.8 L549.5,482.7 L545.4,482.5 L541.4,482.4 L537.3,482.3 L533.2,482.2 L529.2,482.1 L525.1,482.1 L521.1,482.0 L517.0,482.0 L513.0,482.0 L508.9,482.0 L504.9,482.1 L500.8,482.1 L496.8,482.2 L492.7,482.3 L488.6,482.4 L484.6,482.5 L480.5,482.7 L476.5,482.9 L472.4,483.1 L468.4,483.3 L464.3,483.5 L460.3,483.8 L456.2,484.1 L452.2,484.4 L448.1,484.7 L444.1,485.0 L440.0,485.4 Z" fill="#d0d0d0" opacity="0.45"/><rect x="440" y="440" width="150" height="28.0" fill="#000" opacity="0.25"/></g>
<linearGradient id="gCB" x1="429" x2="597" gradientUnits="userSpaceOnUse"><stop offset="0" stop-color="#b09a62"/><stop offset="0.25" stop-color="#c8b47c"/><stop offset="0.5" stop-color="#d6c490"/><stop offset="0.75" stop-color="#c0a870"/><stop offset="1" stop-color="#9a8448"/></linearGradient>
<ellipse cx="513" cy="589" rx="84" ry="13" fill="url(#gCB)" opacity="0.9"/>
<path d="M435,586 Q513,573 591,586" stroke="#8a7440" stroke-width="1.2" fill="none" opacity="0.35"/>
<g stroke="#fff" stroke-width="2.2" fill="none" stroke-linecap="butt">
<polyline points="450,216 584,117 900,117"/>
<polyline points="189,231 218,349.5 500,349.5"/>
<polyline points="740,454.5 953,454.5"/>
<polyline points="139,573 191,537.5 473,537.5"/>
<polyline points="669,654 952,654"/>
<polyline points="481,814 584,919.5 899,919.5"/>
</g>
<g font-family="Liberation Sans" font-size="29" fill="#fff" stroke="#fff" stroke-width="0.3">
<text x="591" y="66.8" textLength="119" lengthAdjust="spacingAndGlyphs">Non-slip,</text>
<text x="591.5" y="104.3" textLength="285.5" lengthAdjust="spacingAndGlyphs">shock-absorbing pads</text>
<text x="106.5" y="213.3" textLength="151.6" lengthAdjust="spacingAndGlyphs">Copper Pad</text>
<text x="810" y="443.8" textLength="141" lengthAdjust="spacingAndGlyphs">Upper part</text>
<text x="24" y="605.1" textLength="307.5" lengthAdjust="spacingAndGlyphs">Height-adjustable spike</text>
<text x="794" y="641.3" textLength="157" lengthAdjust="spacingAndGlyphs">bottom part</text>
<text x="591" y="865.6" textLength="119" lengthAdjust="spacingAndGlyphs">Non-slip,</text>
<text x="591.5" y="903.5" textLength="285.5" lengthAdjust="spacingAndGlyphs">shock-absorbing pads</text>
</g>
</svg></body></html>
